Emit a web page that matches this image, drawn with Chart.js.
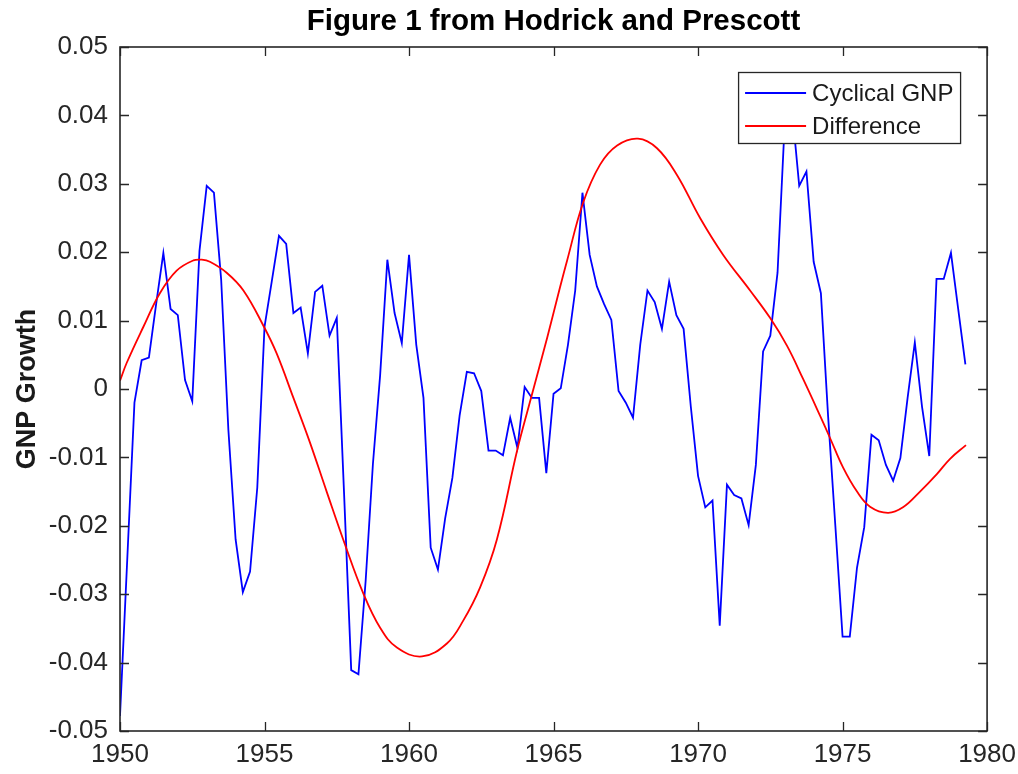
<!DOCTYPE html>
<html>
<head>
<meta charset="utf-8">
<title>Figure 1 from Hodrick and Prescott</title>
<script src="https://cdn.jsdelivr.net/npm/chart.js@4.4.1/dist/chart.umd.min.js"></script>
<style>
  html, body { margin: 0; padding: 0; background: #fff; }
  canvas { display: block; }
</style>
</head>
<body>
<canvas id="hpChart" width="1018" height="774"></canvas>
<script>
"use strict";

/* quarterly series, first point = 1950 Q1 */
const startYear = 1950;
const quarterStep = 0.25;

const cyclicalGNP = [
    -0.0478, -0.0250, -0.0020, 0.0042, 0.0046, 0.0124, 0.0199, 0.0117, 0.0108, 0.0013,
    -0.0018, 0.0202, 0.0297, 0.0287, 0.0160, -0.0060, -0.0220, -0.0297, -0.0267, -0.0144,
    0.0091, 0.0157, 0.0224, 0.0212, 0.0111, 0.0119, 0.0052, 0.0142, 0.0151, 0.0078,
    0.0104, -0.0150, -0.0411, -0.0417, -0.0280, -0.0110, 0.0020, 0.0189, 0.0111, 0.0067,
    0.0196, 0.0065, -0.0013, -0.0232, -0.0264, -0.0189, -0.0130, -0.0039, 0.0025, 0.0023,
    -0.0003, -0.0090, -0.0090, -0.0097, -0.0042, -0.0086, 0.0003, -0.0013, -0.0013, -0.0123,
    -0.0007, 0.0001, 0.0065, 0.0144, 0.0287, 0.0196, 0.0150, 0.0124, 0.0101, -0.0003,
    -0.0020, -0.0042, 0.0065, 0.0144, 0.0127, 0.0088, 0.0157, 0.0108, 0.0088, -0.0026,
    -0.0127, -0.0173, -0.0163, -0.0346, -0.0140, -0.0155, -0.0160, -0.0199, -0.0111, 0.0055,
    0.0078, 0.0170, 0.0390, 0.0410, 0.0297, 0.0318, 0.0186, 0.0140, -0.0040, -0.0200,
    -0.0362, -0.0362, -0.0261, -0.0202, -0.0067, -0.0075, -0.0111, -0.0134, -0.0101, -0.0013,
    0.0068, -0.0026, -0.0098, 0.0161, 0.0161, 0.0199, 0.0117, 0.0036
];

const differenceYears = [
    1950.0, 1950.23, 1950.81, 1951.38, 1951.96, 1952.54, 1952.83, 1953.11, 1953.69, 1954.27,
    1954.98, 1955.42, 1956.0, 1956.57, 1957.15, 1957.79, 1958.41, 1959.0, 1959.58, 1960.45,
    1961.31, 1961.87, 1962.46, 1963.04, 1963.74, 1964.19, 1964.78, 1965.22, 1965.47, 1966.02,
    1966.61, 1967.2, 1967.92, 1968.58, 1969.27, 1970.07, 1970.87, 1971.8, 1972.49, 1973.08,
    1973.63, 1974.22, 1974.57, 1975.02, 1975.5, 1975.95, 1976.57, 1977.09, 1977.68, 1978.27,
    1978.72, 1979.27
];
const differenceValues = [
    0.0012, 0.0038, 0.0091, 0.0140, 0.0173, 0.0188, 0.0189, 0.0186, 0.0170, 0.0144,
    0.0091, 0.0052, -0.0013, -0.0078, -0.0150, -0.0228, -0.0298, -0.0349, -0.0378, -0.0391,
    -0.0372, -0.0339, -0.0290, -0.0220, -0.0090, -0.0018, 0.0075, 0.0148, 0.0188, 0.0272,
    0.0328, 0.0356, 0.0366, 0.0352, 0.0313, 0.0250, 0.0196, 0.0144, 0.0104, 0.0063,
    0.0015, -0.0039, -0.0072, -0.0115, -0.0150, -0.0172, -0.0181, -0.0173, -0.0150, -0.0124,
    -0.0102, -0.0082
];

const xTicks = [1950, 1955, 1960, 1965, 1970, 1975, 1980];
const yTicks = [-0.05, -0.04, -0.03, -0.02, -0.01, 0, 0.01, 0.02, 0.03, 0.04, 0.05];

const seriesLabels = ['Cyclical GNP', 'Difference'];
const seriesColors = ['#0000ff', '#ff0000'];

const fontFamily = "'Liberation Sans', Arial, Helvetica, sans-serif";
const axisColor = '#262626';

/* frame, inward ticks on all four sides and the boxed legend */
const matlabAxes = {
    id: 'matlabAxes',
    afterDatasetsDraw(chart) {
        const ctx = chart.ctx;
        const a = chart.chartArea;
        const x = chart.scales.x;
        const y = chart.scales.y;
        const tick = 9;

        ctx.save();
        ctx.strokeStyle = axisColor;
        ctx.lineWidth = 1.3;
        ctx.beginPath();
        xTicks.forEach(function(v) {
            const px = Math.round(x.getPixelForValue(v)) + 0.5;
            ctx.moveTo(px, a.bottom); ctx.lineTo(px, a.bottom - tick);
            ctx.moveTo(px, a.top); ctx.lineTo(px, a.top + tick);
        });
        yTicks.forEach(function(v) {
            const py = Math.round(y.getPixelForValue(v)) + 0.5;
            ctx.moveTo(a.left, py); ctx.lineTo(a.left + tick, py);
            ctx.moveTo(a.right, py); ctx.lineTo(a.right - tick, py);
        });
        ctx.stroke();
        ctx.lineWidth = 1.6;
        ctx.strokeRect(a.left, a.top, a.right - a.left, a.bottom - a.top);

        // legend box, top right inside the axes
        const boxW = 222, boxH = 71;
        const bx = a.right - 27 - boxW;
        const by = a.top + 25;
        ctx.fillStyle = '#ffffff';
        ctx.fillRect(bx, by, boxW, boxH);
        ctx.lineWidth = 1.3;
        ctx.strokeRect(bx + 0.5, by + 0.5, boxW, boxH);

        ctx.font = '24px ' + fontFamily;
        ctx.textBaseline = 'middle';
        ctx.textAlign = 'left';
        chart.data.datasets.forEach(function(ds, i) {
            const ly = by + 21 + i * 33;
            ctx.strokeStyle = ds.borderColor;
            ctx.lineWidth = 1.8;
            ctx.beginPath();
            ctx.moveTo(bx + 7, ly);
            ctx.lineTo(bx + 68, ly);
            ctx.stroke();
            ctx.fillStyle = '#1a1a1a';
            ctx.fillText(ds.label, bx + 74, ly + 1);
        });
        ctx.restore();
    }
};

new Chart(document.getElementById('hpChart').getContext('2d'), {
    type: 'line',
    data: {
        datasets: [
            {
                label: seriesLabels[0],
                data: cyclicalGNP.map(function(v, i) { return { x: startYear + i * quarterStep, y: v }; }),
                borderColor: seriesColors[0],
                borderWidth: 1.8,
                pointRadius: 0,
                tension: 0,
                fill: false,
                order: 2
            },
            {
                label: seriesLabels[1],
                data: differenceYears.map(function(yr, i) { return { x: yr, y: differenceValues[i] }; }),
                borderColor: seriesColors[1],
                borderWidth: 1.8,
                pointRadius: 0,
                tension: 0.4,
                fill: false,
                order: 1
            }
        ]
    },
    options: {
        responsive: false,
        animation: false,
        devicePixelRatio: 1,
        layout: {
            padding: { left: 0, right: 0, top: 0, bottom: 0 }
        },
        plugins: {
            legend: { display: false },
            tooltip: { enabled: false },
            title: {
                display: true,
                fullSize: false,
                text: 'Figure 1 from Hodrick and Prescott',
                color: '#000000',
                font: { family: fontFamily, size: 29.5, weight: 'bold' },
                padding: { top: 4, bottom: 7.6 }
            }
        },
        scales: {
            x: {
                type: 'linear',
                min: 1950,
                max: 1980,
                grid: { display: false, drawTicks: true, tickLength: 6 },
                border: { display: false },
                ticks: {
                    stepSize: 5,
                    padding: 2,
                    color: axisColor,
                    maxRotation: 0,
                    font: { family: fontFamily, size: 26 },
                    callback: function(v) { return String(v); }
                },
                afterFit: function(scale) { scale.height = 43; }
            },
            y: {
                type: 'linear',
                min: -0.05,
                max: 0.05,
                grid: { display: false, drawTicks: false },
                border: { display: false },
                title: {
                    display: true,
                    text: 'GNP Growth',
                    color: '#1a1a1a',
                    font: { family: fontFamily, size: 27, weight: 'bold' },
                    padding: { top: 11, bottom: 0 }
                },
                ticks: {
                    stepSize: 0.01,
                    padding: 12,
                    color: axisColor,
                    font: { family: fontFamily, size: 26 },
                    callback: function(v) { return String(Number(v.toFixed(2))); }
                },
                afterFit: function(scale) { scale.width = 120; }
            }
        }
    },
    plugins: [matlabAxes]
});
</script>
</body>
</html>
